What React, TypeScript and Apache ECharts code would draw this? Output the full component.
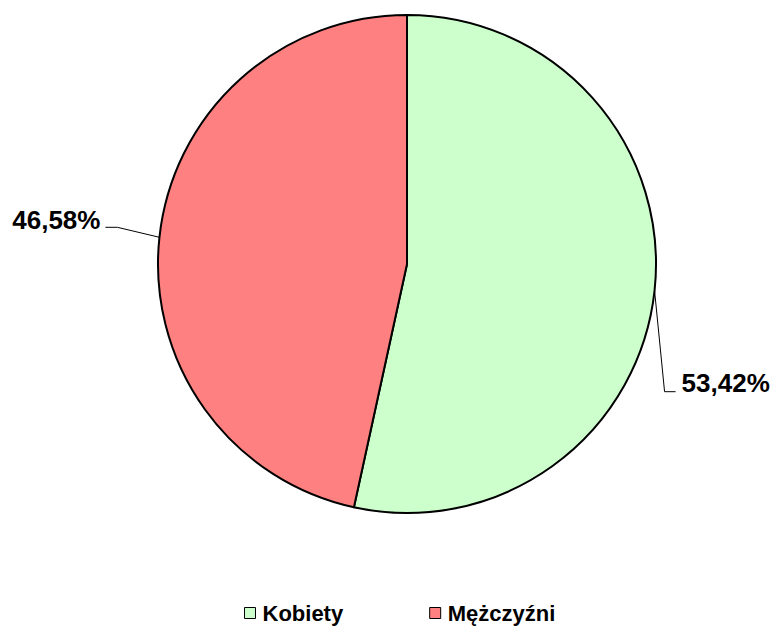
import React, { useEffect, useRef } from "react";
import * as echarts from "echarts";

const categories = ["Kobiety", "Mężczyźni"];
const values = [53.42, 46.58];
const colors = ["#CCFFCC", "#FF8080"];

export default function App() {
  const ref = useRef<HTMLDivElement>(null);
  useEffect(() => {
    if (!ref.current) return;
    const chart = echarts.init(ref.current, null, { renderer: "svg" });
    const cx = 407;
    const cy = 264;
    const r = 249;
    chart.setOption({
      animation: false,
      textStyle: { fontFamily: "Liberation Sans, Arial, sans-serif" },
      legend: {
        data: categories,
        left: 244,
        top: 602,
        padding: 0,
        itemWidth: 11,
        itemHeight: 11,
        itemGap: 86,
        icon: "rect",
        itemStyle: { borderColor: "#000", borderWidth: 1 },
        textStyle: {
          fontSize: 22,
          fontWeight: "bold",
          color: "#000",
          fontFamily: "Liberation Sans, Arial, sans-serif",
          padding: [0, 0, 0, 2],
        },
        selectedMode: false,
      },
      series: [
        {
          type: "pie",
          center: [cx, cy],
          radius: r,
          startAngle: 90,
          clockwise: true,
          data: categories.map((c, i) => ({
            name: c,
            value: values[i],
            itemStyle: { color: colors[i] },
          })),
          itemStyle: { borderColor: "#000", borderWidth: 2 },
          emphasis: { disabled: true },
          label: {
            show: true,
            position: "outside",
            formatter: (p: any) => p.value.toFixed(2).replace(".", ",") + "%",
            fontSize: 26,
            fontWeight: "bold",
            color: "#000",
            overflow: "none",
            fontFamily: "Liberation Sans, Arial, sans-serif",
          },
          labelLine: {
            show: true,
            length: 10,
            length2: 10,
            lineStyle: { color: "#000", width: 1 },
          },
          labelLayout: (params: any) => {
            let start = params.labelLinePoints && params.labelLinePoints[0];
            if (!start) {
              let acc = 0;
              const total = values.reduce((a, b) => a + b, 0);
              for (let k = 0; k < params.dataIndex; k++) acc += values[k];
              const mid = ((acc + values[params.dataIndex] / 2) / total) * 2 * Math.PI;
              start = [cx + r * Math.sin(mid), cy - r * Math.cos(mid)];
            }
            const [sx, sy] = start;
            if (params.dataIndex === 0) {
              return {
                x: sx + 27,
                y: sy + 92,
                align: "left",
                verticalAlign: "middle",
                width: 120,
                labelLinePoints: [
                  [sx, sy],
                  [sx + 10, sy + 101],
                  [sx + 21, sy + 101],
                ],
              };
            }
            return {
              x: sx - 59,
              y: sy - 17,
              align: "right",
              verticalAlign: "middle",
              labelLinePoints: [
                [sx, sy],
                [sx - 42, sy - 10],
                [sx - 54, sy - 10],
              ],
            };
          },
        },
      ],
    });
    return () => chart.dispose();
  }, []);
  return (
    <div
      ref={ref}
      style={{ position: "absolute", left: 0, top: 0, width: 774, height: 626 }}
    />
  );
}
